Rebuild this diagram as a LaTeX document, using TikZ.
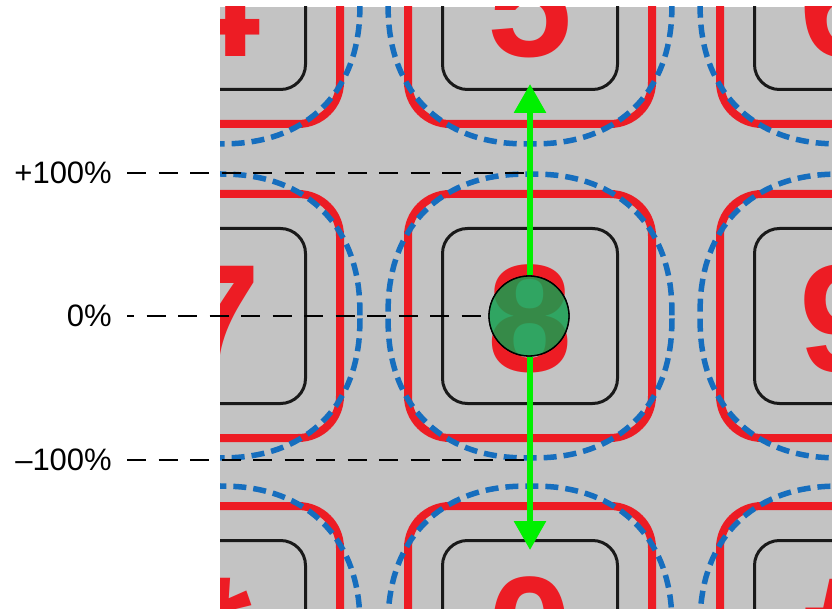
\documentclass[tikz,border=0pt]{standalone}
\usepackage{fontspec}
\setmainfont{Liberation Sans}
\usetikzlibrary{arrows.meta}
\definecolor{bggray}{RGB}{195,195,195}
\definecolor{keyred}{RGB}{237,28,36}
\definecolor{dashblue}{RGB}{22,110,190}
\definecolor{arrowgreen}{RGB}{0,240,0}
\definecolor{dotgreen}{RGB}{20,160,80}
\definecolor{innerblack}{RGB}{25,25,25}
\begin{document}
\begin{tikzpicture}[x=1pt,y=-1pt,
  outerkey/.style={draw=keyred,line width=8pt,rounded corners=42pt},
  innerkey/.style={draw=innerblack,line width=3pt,rounded corners=25pt},
  digit/.style={text=keyred,font=\fontsize{153}{153}\selectfont\bfseries,inner sep=0pt,anchor=base},
  bluedash/.style={draw=dashblue,line width=5.5pt,dash pattern=on 13pt off 7pt},
  refline/.style={draw=black,line width=2.5pt,dash pattern=on 19pt off 12.5pt},
  lab/.style={font=\fontsize{31}{31}\selectfont,inner sep=0pt,anchor=east},
  garrow/.style={draw=arrowgreen,line width=6pt,-{Triangle[length=29pt,width=31pt]}},
  dotstyle/.style={circle,fill=dotgreen,fill opacity=0.6,draw=black,draw opacity=1,line width=1.3pt,minimum size=80pt,inner sep=0pt}]
\useasboundingbox (0,0) rectangle (832,609);
\fill[bggray] (220,7) rectangle (832,609);
\begin{scope}
  \clip (220,7) rectangle (832,609);
  \foreach \cx/\cy in {218/2,530/2,842/2,218/316,530/316,842/316,218/628,530/628,842/628}{
    \draw[outerkey] (\cx-122,\cy-122) rectangle (\cx+122,\cy+122);
    \draw[innerkey] (\cx-87.5,\cy-87.5) rectangle (\cx+87.5,\cy+87.5);
  }
  \node[digit] (k4) at (218,57) {4};
  \node[digit] (k5) at (530,57) {5};
  \node[digit] (k6) at (842,57) {6};
  \node[digit] (k7) at (218,371) {7};
  \node[digit] (k8) at (530,371) {8};
  \node[digit] (k9) at (842,371) {9};
  \node[digit] (ks) at (222,683) {*};
  \node[digit] (k0) at (530,683) {0};
  \node[digit] (kh) at (842,683) {\#};
  \foreach \cx/\cy in {218/2,530/2,842/2,218/316,530/316,842/316,218/628,530/628,842/628}{
    \draw[bluedash,shift={(\cx,\cy)}] plot[domain=0.5:360.5,samples=145]
      ({142*sign(cos(\x))*abs(cos(\x))^0.87},{142*sign(sin(\x))*abs(sin(\x))^0.87}) -- cycle;
  }
\end{scope}
\coordinate (atop) at (530,84);
\coordinate (abot) at (530,550);
\node[dotstyle] (dot) at (529,316) {};
\node[lab] (lp) at (112,173) {+100\%};
\node[lab] (l0) at (112,316) {0\%};
\node[lab] (lm) at (112,460) {–100\%};
\draw[refline] ([xshift=15pt]lp.east) -- (lp.east -| atop);
\draw[refline,dash phase=12pt] ([xshift=15pt]l0.east) -- (dot.west);
\draw[refline] ([xshift=15pt]lm.east) -- (lm.east -| atop);
\draw[garrow] (atop |- dot.north) -- (atop);
\draw[garrow] (abot |- dot.south) -- (abot);
\node[dotstyle] at (dot) {};
\end{tikzpicture}
\end{document}
